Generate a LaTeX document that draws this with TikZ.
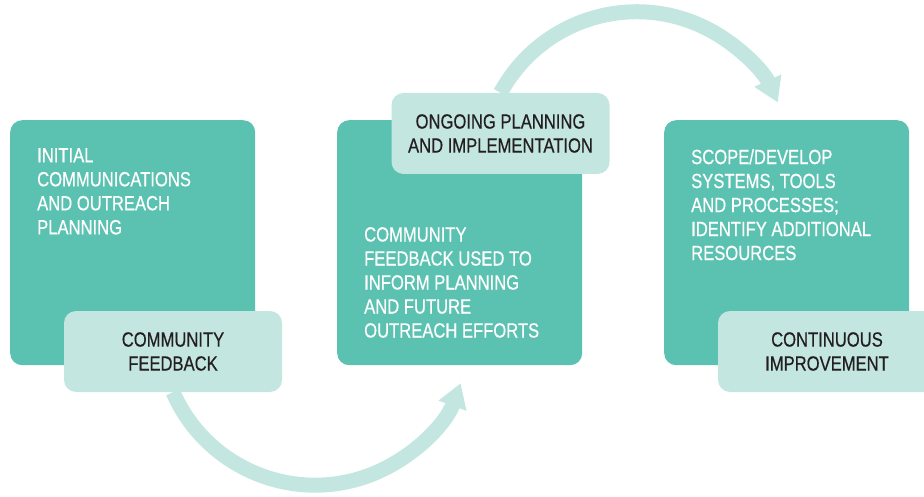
\documentclass[tikz,border=0pt]{standalone}
\usepackage{fontspec}
\usepackage{tikz}
\usetikzlibrary{positioning, arrows.meta}
\newfontfamily\condfont{Liberation Sans}[FakeStretch=0.81, FakeBold=0.5]
\definecolor{stepteal}{RGB}{91,194,177}
\definecolor{steplight}{RGB}{196,230,225}
\definecolor{steptext}{RGB}{35,31,32}

\begin{document}
\begin{tikzpicture}[x=1pt, y=-1pt,
        bigbox/.style={fill=stepteal, rounded corners=12pt, minimum width=245, minimum height=245, anchor=north west, inner sep=0},
        tagbox/.style={fill=steplight, rounded corners=12pt, minimum width=218, minimum height=81, align=center, text=steptext, font=\condfont\fontsize{20.5}{24}\selectfont},
        boxtext/.style={anchor=north west, align=left, inner sep=0, text=white, font=\condfont\fontsize{20.5}{24}\selectfont},
        looparrow/.style={draw=steplight, line width=15pt, -{Triangle[width=28pt, length=24pt]}}]
        \useasboundingbox (0,0) rectangle (924,497);
        \clip (0,0) rectangle (924,497);
        % three main steps
        \node[bigbox] (initial) at (10,120) {};
        \node[bigbox] (feedback) at (337,120) {};
        \node[bigbox] (scope) at (664,120) {};
        \node[boxtext] (initialtxt) at (37,148) {INITIAL\\COMMUNICATIONS\\AND OUTREACH\\PLANNING};
        \node[boxtext] (feedbacktxt) at (364,227) {COMMUNITY\\FEEDBACK USED TO\\INFORM PLANNING\\AND FUTURE\\OUTREACH EFFORTS};
        \node[boxtext] (scopetxt) at (691,149) {SCOPE/DEVELOP\\SYSTEMS, TOOLS\\AND PROCESSES;\\IDENTIFY ADDITIONAL\\RESOURCES};
        % labels on the steps
        \node[tagbox] (community) at (173,351.5) {COMMUNITY\\FEEDBACK};
        \node[tagbox] (ongoing) at (500.5,133.5) {ONGOING PLANNING\\AND IMPLEMENTATION};
        \node[tagbox] (continuous) at (827,351.5) {CONTINUOUS\\IMPROVEMENT};
        % curved arrows
        \draw[looparrow] (community.south) arc[start angle=156.4, end angle=20, radius=155];
        \draw[looparrow] (ongoing.north) arc[start angle=208.5, end angle=335.5, radius=155];
    \end{tikzpicture}
\end{document}
